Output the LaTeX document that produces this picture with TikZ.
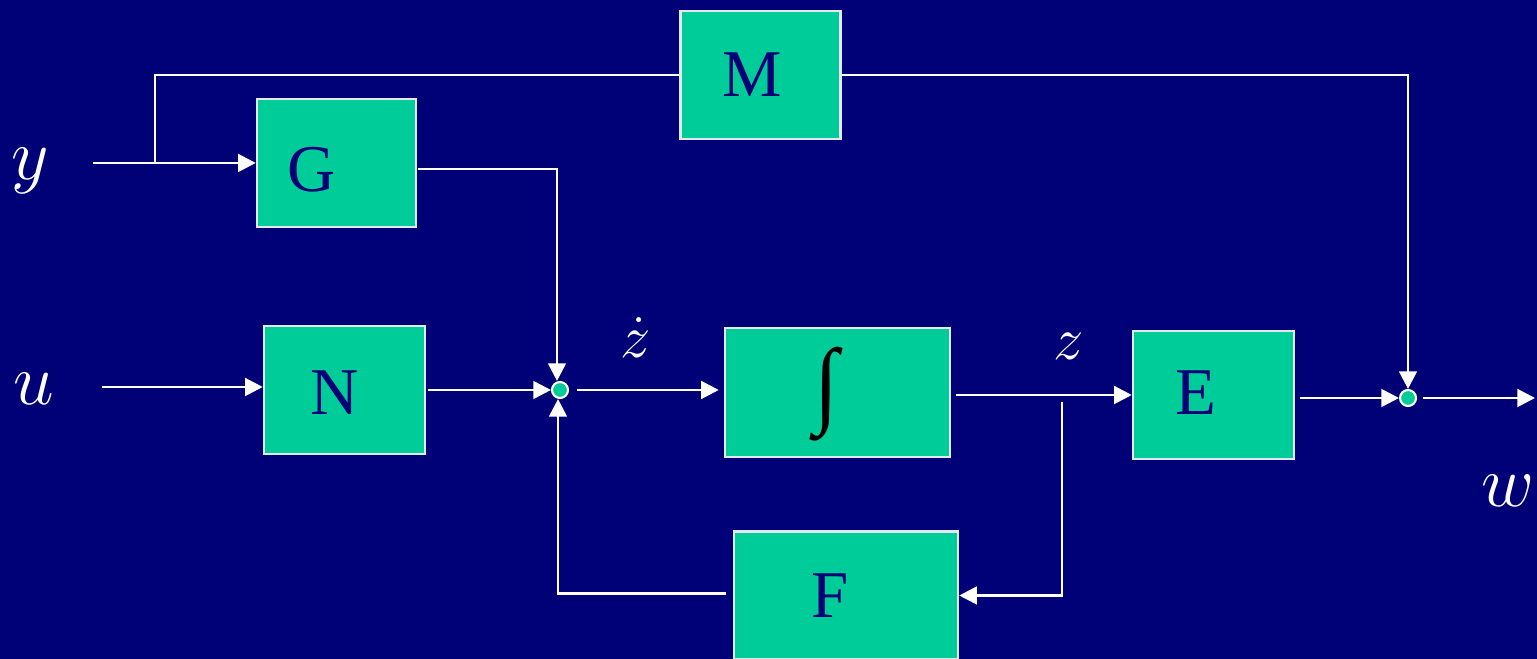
\documentclass[tikz,border=0pt]{standalone}
\usepackage{amsmath}
\usepackage{graphicx}
\usepackage{fontspec}
\setmainfont{Liberation Serif}
\usepackage{tikz}
\usetikzlibrary{
    arrows.meta,
    positioning,
    calc
}
\definecolor{slidebg}{RGB}{0,0,119}
\definecolor{blockfill}{RGB}{0,204,153}
\definecolor{blockline}{RGB}{228,232,240}
\tikzset{
    line cap=butt,
    block/.style={
        rectangle,
        draw=blockline,
        line width=0.7pt,
        fill=blockfill,
        minimum width=1.6cm,
        minimum height=1.28cm,
        inner sep=0pt
    },
    blocklabel/.style={
        font=\fontsize{19}{22}\selectfont,
        text=slidebg,
        inner sep=0pt
    },
    junction/.style={
        circle,
        draw=white,
        line width=0.6pt,
        fill=blockfill,
        minimum size=0.16cm,
        inner sep=0pt
    },
    signal/.style={
        -{Triangle[length=5pt,width=5pt]},
        draw=white,
        line width=0.8pt
    },
    plainwire/.style={
        draw=white,
        line width=0.8pt
    },
    siglabel/.style={
        font=\fontsize{20}{24}\selectfont,
        text=white,
        anchor=base,
        inner sep=0pt
    },
    statelabel/.style={
        siglabel,
        font=\fontsize{18}{22}\selectfont
    }
}

\begin{document}
\begin{tikzpicture}

% Background
\fill[slidebg] (0,0) rectangle (15.37,6.59);
\useasboundingbox (0,0) rectangle (15.37,6.59);

% Blocks
\node[block, label={[blocklabel, xshift=-0.085cm]center:M}] (M) at (7.605,5.84) {};
\node[block, minimum width=1.59cm, label={[blocklabel, xshift=-0.245cm, yshift=-0.07cm]center:G}] (G) at (3.365,4.96) {};
\node[block, minimum width=1.61cm, label={[blocklabel, xshift=-0.095cm, yshift=-0.03cm]center:N}] (N) at (3.445,2.69) {};
\node[block, minimum width=2.25cm, minimum height=1.29cm,
      label={[text=black, inner sep=0pt, xshift=-0.11cm, yshift=-0.02cm]center:{\resizebox*{0.24cm}{0.94cm}{∫}}}] (int) at (8.375,2.665) {};
\node[block, minimum width=1.61cm, label={[blocklabel, xshift=-0.175cm, yshift=0.02cm]center:E}] (E) at (12.135,2.64) {};
\node[block, minimum width=2.24cm, label={[blocklabel, xshift=-0.16cm]center:F}] (F) at (8.46,0.635) {};

% Summing points
\node[junction] (J1) at (5.60,2.69) {};
\node[junction] (J2) at (14.08,2.61) {};

% Free ends
\coordinate (yin) at (0.93,4.96);
\coordinate (ysplit) at (1.55,4.96);
\coordinate (uin) at (1.02,2.72);
\coordinate (zsplit) at (10.62,2.57);
\coordinate (wout) at (15.35,2.61);

% Signal labels
\node[siglabel] (ylbl) at (0.30,4.79) {$y$};
\node[siglabel] (ulbl) at (0.34,2.54) {$u$};
\node[siglabel] (wlbl) at (15.08,1.52) {$w$};
\node[statelabel] (zdotlbl) at (6.36,3.01) {$\dot z$};
\node[statelabel] (zlbl) at (10.69,2.99) {$z$};

% Forward path
\draw[signal] (yin) -- (G.west);
\draw[plainwire] (ysplit) |- (M.west);
\draw[signal] (M.east) -| (J2.north);
\draw[signal] ([xshift=0.01cm, yshift=-0.06cm]G.east) -| ([xshift=-0.03cm]J1.north);
\draw[signal] (uin) -- (uin -| N.west);
\draw[signal, shorten <=0.02cm] (N.east) -- (J1.west);
\draw[signal, shorten <=0.08cm, shorten >=0.05cm] (J1.east) -- (J1.east -| int.west);
\draw[signal] ([xshift=0.05cm, yshift=-0.025cm]int.east) -- ([yshift=-0.025cm]int.east -| E.west);
\draw[signal] ([xshift=0.05cm]E.east |- J2.west) -- (J2.west);
\draw[signal, shorten <=0.06cm] (J2.east) -- (wout);

% Feedback through F
\draw[signal] (zsplit) |- (F.east);
\draw[signal] ([xshift=-0.07cm, yshift=0.02cm]F.west) -| ([xshift=-0.02cm]J1.south);

\end{tikzpicture}
\end{document}
